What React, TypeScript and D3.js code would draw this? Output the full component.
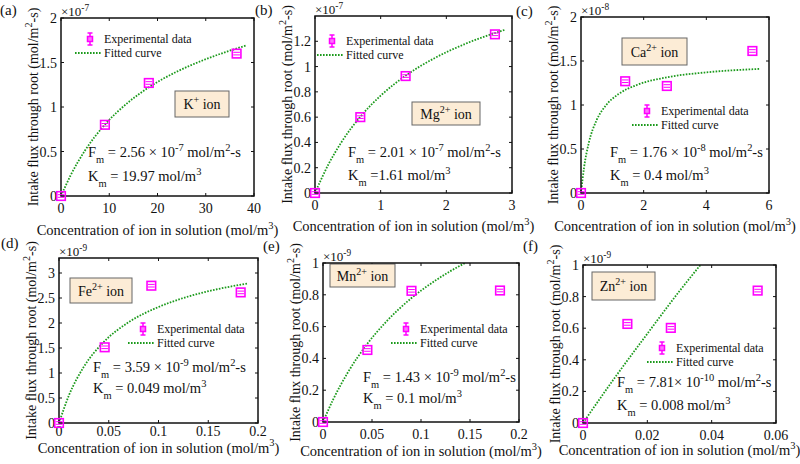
import React from 'react';
import * as d3 from 'd3';

const FONT = "'Liberation Serif', 'DejaVu Serif', 'Times New Roman', serif";
const MAGENTA = '#ff00ff';
const GREEN = '#1c9a1c';
const BOX_FILL = '#fcecd6';

// ---------- data (flux in units of the panel's ×10^n factor) ----------
const kConc = [0, 9.1, 18.2, 36.4];
const kFlux = [0, 0.8, 1.27, 1.6];
const kFitConc = [0, 2, 5, 9, 14, 18, 24, 30, 38.3];
const kFitFlux = [0, 0.233, 0.513, 0.796, 1.055, 1.214, 1.397, 1.537, 1.69];

const mgConc = [0, 0.69, 1.38, 2.74];
const mgFlux = [0, 0.6, 0.925, 1.255];
const mgFitConc = [0, 0.2, 0.4, 0.7, 1.0, 1.4, 1.8, 2.3, 2.9];
const mgFitFlux = [0, 0.222, 0.4, 0.609, 0.77, 0.935, 1.061, 1.182, 1.292];

const caConc = [0, 1.41, 2.74, 5.47];
const caFlux = [0, 1.27, 1.216, 1.614];
const caFitConc = [0, 0.1, 0.25, 0.5, 0.8, 1.2, 1.8, 2.7, 4, 5.7];
const caFitFlux = [0, 0.295, 0.571, 0.829, 0.998, 1.125, 1.23, 1.312, 1.371, 1.41];

const feConc = [0, 0.0459, 0.0928, 0.1826];
const feFlux = [0, 1.514, 2.746, 2.612];
const feFitConc = [0, 0.01, 0.025, 0.045, 0.07, 0.1, 0.13, 0.16, 0.19];
const feFitFlux = [0, 0.554, 1.125, 1.62, 2.016, 2.32, 2.53, 2.68, 2.79];

const mnConc = [0, 0.0453, 0.0903, 0.1806];
const mnFlux = [0, 0.453, 0.825, 0.827];
const mnFitConc = [0, 0.01, 0.025, 0.045, 0.065, 0.09, 0.115, 0.13, 0.145];
const mnFitFlux = [0, 0.137, 0.308, 0.49, 0.634, 0.778, 0.891, 0.949, 1.0];

const znConc = [0, 0.0138, 0.0273, 0.0543];
const znFlux = [0, 0.627, 0.602, 0.838];
const znFitConc = [0, 0.01, 0.02, 0.03, 0.0365];
const znFitFlux = [0, 0.29, 0.565, 0.835, 1.0];

// ---------- ticks ----------
const aXTicks = [0, 10, 20, 30, 40];
const aXTickLabels = ['0', '10', '20', '30', '40'];
const aYTicks = [0, 0.5, 1, 1.5, 2];
const aYTickLabels = ['0', '0.5', '1', '1.5', '2'];

const bXTicks = [0, 1, 2, 3];
const bXTickLabels = ['0', '1', '2', '3'];
const bYTicks = [0, 0.2, 0.4, 0.6, 0.8, 1, 1.2];
const bYTickLabels = ['0', '0.2', '0.4', '0.6', '0.8', '1', '1.2'];

const cXTicks = [0, 2, 4, 6];
const cXTickLabels = ['0', '2', '4', '6'];
const cYTicks = [0, 0.5, 1, 1.5, 2];
const cYTickLabels = ['0', '0.5', '1', '1.5', '2'];

const dXTicks = [0, 0.05, 0.1, 0.15, 0.2];
const dXTickLabels = ['0', '0.05', '0.1', '0.15', '0.2'];
const dYTicks = [0, 0.5, 1, 1.5, 2, 2.5, 3];
const dYTickLabels = ['0', '0.5', '1', '1.5', '2', '2.5', '3'];

const eXTicks = [0, 0.05, 0.1, 0.15, 0.2];
const eXTickLabels = ['0', '0.05', '0.1', '0.15', '0.2'];
const eYTicks = [0, 0.2, 0.4, 0.6, 0.8, 1];
const eYTickLabels = ['0', '0.2', '0.4', '0.6', '0.8', '1'];

const fXTicks = [0, 0.02, 0.04, 0.06];
const fXTickLabels = ['0', '0.02', '0.04', '0.06'];
const fYTicks = [0, 0.2, 0.4, 0.6, 0.8, 1];
const fYTickLabels = ['0', '0.2', '0.4', '0.6', '0.8', '1'];

// ---------- texts ----------
type Seg = [string, number]; // 0 normal, 1 superscript, -1 subscript
const yLabelSegs: Seg[] = [['Intake flux through root (mol/m', 0], ['2', 1], ['-s)', 0]];
const xLabelSegs: Seg[] = [['Concentration of ion in solution (mol/m', 0], ['3', 1], [')', 0]];
const legendTexts = ['Experimental data', 'Fitted curve'];

const fmSegs = (v: string, e: string, sep = ' '): Seg[] => [
  ['F', 0], ['m', -1], [' = ' + v + sep + '× 10', 0], [e, 1], [' mol/m', 0], ['2', 1], ['-s', 0],
];
const kmSegs = (s: string): Seg[] => [['K', 0], ['m', -1], [s + ' mol/m', 0], ['3', 1]];

const panels = [
  {
    tag: '(a)', tagX: 0, tagY: 15,
    x0: 61, x1: 254, y0: 18, y1: 196, xDom: [0, 40], yDom: [0, 2],
    xTicks: aXTicks, xTickLabels: aXTickLabels, yTicks: aYTicks, yTickLabels: aYTickLabels,
    exp: '-7', xTickOff: 17, xLabY: 235,
    conc: kConc, flux: kFlux, fitC: kFitConc, fitF: kFitFlux,
    ion: [['K', 0], ['+', 1], [' ion', 0]] as Seg[], ionBox: [175, 91, 54, 26],
    leg: [75, 53], ann: [88, 157, 181],
    fm: fmSegs('2.56', '-7'), km: kmSegs(' = 19.97'),
  },
  {
    tag: '(b)', tagX: 255, tagY: 15,
    x0: 315, x1: 512, y0: 16, y1: 193, xDom: [0, 3], yDom: [0, 1.4],
    xTicks: bXTicks, xTickLabels: bXTickLabels, yTicks: bYTicks, yTickLabels: bYTickLabels,
    exp: '-7', xTickOff: 17, xLabY: 231,
    conc: mgConc, flux: mgFlux, fitC: mgFitConc, fitF: mgFitFlux,
    ion: [['Mg', 0], ['2+', 1], [' ion', 0]] as Seg[], ionBox: [412, 102, 68, 23],
    leg: [317, 55], ann: [348, 157, 180],
    fm: fmSegs('2.01', '-7'), km: kmSegs(' =1.61'),
  },
  {
    tag: '(c)', tagX: 516, tagY: 16,
    x0: 581, x1: 769, y0: 17, y1: 193, xDom: [0, 6], yDom: [0, 2],
    xTicks: cXTicks, xTickLabels: cXTickLabels, yTicks: cYTicks, yTickLabels: cYTickLabels,
    exp: '-8', xTickOff: 17, xLabY: 231,
    conc: caConc, flux: caFlux, fitC: caFitConc, fitF: caFitFlux,
    ion: [['Ca', 0], ['2+', 1], [' ion', 0]] as Seg[], ionBox: [622, 38, 65, 27],
    leg: [632, 125], ann: [610, 157, 180],
    fm: fmSegs('1.76', '-8'), km: kmSegs(' = 0.4'),
  },
  {
    tag: '(d)', tagX: 1, tagY: 248,
    x0: 59, x1: 258, y0: 258, y1: 423, xDom: [0, 0.2], yDom: [0, 3.3],
    xTicks: dXTicks, xTickLabels: dXTickLabels, yTicks: dYTicks, yTickLabels: dYTickLabels,
    exp: '-9', xTickOff: 12.5, xLabY: 452.5,
    conc: feConc, flux: feFlux, fitC: feFitConc, fitF: feFitFlux,
    ion: [['Fe', 0], ['2+', 1], [' ion', 0]] as Seg[], ionBox: [70, 278, 62, 25],
    leg: [128, 343], ann: [93, 372, 393],
    fm: fmSegs('3.59', '-9'), km: kmSegs(' = 0.049'),
  },
  {
    tag: '(e)', tagX: 263, tagY: 251,
    x0: 323, x1: 519, y0: 263, y1: 422, xDom: [0, 0.2], yDom: [0, 1],
    xTicks: eXTicks, xTickLabels: eXTickLabels, yTicks: eYTicks, yTickLabels: eYTickLabels,
    exp: '-9', xTickOff: 17, xLabY: 456,
    conc: mnConc, flux: mnFlux, fitC: mnFitConc, fitF: mnFitFlux,
    ion: [['Mn', 0], ['2+', 1], [' ion', 0]] as Seg[], ionBox: [330, 264, 65, 23],
    leg: [391, 343], ann: [363, 382, 403],
    fm: fmSegs('1.43', '-9'), km: kmSegs(' = 0.1'),
  },
  {
    tag: '(f)', tagX: 523, tagY: 251,
    x0: 583, x1: 776, y0: 265, y1: 423, xDom: [0, 0.06], yDom: [0, 1],
    xTicks: fXTicks, xTickLabels: fXTickLabels, yTicks: fYTicks, yTickLabels: fYTickLabels,
    exp: '-9', xTickOff: 17, xLabY: 455,
    conc: znConc, flux: znFlux, fitC: znFitConc, fitF: znFitFlux,
    ion: [['Zn', 0], ['2+', 1], [' ion', 0]] as Seg[], ionBox: [592, 272, 63, 28],
    leg: [647, 362], ann: [617, 387, 410],
    fm: fmSegs('7.81', '-10', ''), km: kmSegs(' = 0.008'),
  },
];

function Rich({ x, y, segs, size, anchor = 'start', transform }: any) {
  let cur = 0;
  return (
    <text x={x} y={y} textAnchor={anchor} transform={transform} fill="#111"
      style={{ whiteSpace: 'pre', fontFamily: FONT, fontSize: size + 'px' }}>
      {segs.map(([t, k]: Seg, i: number) => {
        const target = k === 1 ? -0.42 * size : k === -1 ? 0.4 * size : 0;
        const dy = target - cur;
        cur = target;
        return (
          <tspan key={i} dy={dy} style={{ fontSize: (k ? size * 0.72 : size) + 'px' }}>{t}</tspan>
        );
      })}
    </text>
  );
}

function Txt({ x, y, size, anchor = 'start', children }: any) {
  return (
    <text x={x} y={y} textAnchor={anchor} fill="#111"
      style={{ fontFamily: FONT, fontSize: size + 'px' }}>{children}</text>
  );
}

function DataMarker({ cx, cy }: { cx: number; cy: number }) {
  return (
    <g stroke={MAGENTA} fill="none" strokeWidth={1.6}>
      <rect x={cx - 4.3} y={cy - 4.3} width={8.6} height={8.6} />
      <line x1={cx - 3.3} x2={cx + 3.3} y1={cy - 1.3} y2={cy - 1.3} strokeWidth={1} />
      <line x1={cx - 3.3} x2={cx + 3.3} y1={cy + 1.3} y2={cy + 1.3} strokeWidth={1} />
    </g>
  );
}

function Panel({ p, idx }: any) {
  const x = d3.scaleLinear().domain(p.xDom).range([p.x0, p.x1]);
  const y = d3.scaleLinear().domain(p.yDom).range([p.y1, p.y0]);
  const fitPts: [number, number][] = p.fitC.map((c: number, i: number) => [c, p.fitF[i]]);
  const line = d3.line<[number, number]>()
    .x(d => x(d[0])).y(d => y(d[1])).curve(d3.curveMonotoneX);
  const clipId = 'clip' + idx;
  const tk = 3;
  const [bx, by, bw, bh] = p.ionBox;
  const [lx, ly] = p.leg;
  const [ax, ay1, ay2] = p.ann;
  return (
    <g>
      <defs>
        <clipPath id={clipId}>
          <rect x={p.x0} y={p.y0} width={p.x1 - p.x0} height={p.y1 - p.y0} />
        </clipPath>
      </defs>
      <rect x={p.x0} y={p.y0} width={p.x1 - p.x0} height={p.y1 - p.y0} fill="#fff" />
      <g stroke="#111" strokeWidth={1}>
        {p.xTicks.map((t: number, i: number) => (
          <g key={'x' + i}>
            <line x1={x(t)} x2={x(t)} y1={p.y1} y2={p.y1 - tk} />
            <line x1={x(t)} x2={x(t)} y1={p.y0} y2={p.y0 + tk} />
          </g>
        ))}
        {p.yTicks.map((t: number, i: number) => (
          <g key={'y' + i}>
            <line x1={p.x0} x2={p.x0 + tk} y1={y(t)} y2={y(t)} />
            <line x1={p.x1} x2={p.x1 - tk} y1={y(t)} y2={y(t)} />
          </g>
        ))}
      </g>
      {p.xTicks.map((t: number, i: number) => (
        <Txt key={'xl' + i} x={x(t)} y={p.y1 + p.xTickOff} size={14} anchor="middle">{p.xTickLabels[i]}</Txt>
      ))}
      {p.yTicks.map((t: number, i: number) => (
        <Txt key={'yl' + i} x={p.x0 - 4} y={y(t) + 5} size={14} anchor="end">{p.yTickLabels[i]}</Txt>
      ))}
      <Rich x={p.x0} y={p.y0 - 2} size={13} segs={[['×10', 0], [p.exp, 1]]} />
      <path d={line(fitPts) || ''} fill="none" stroke={GREEN} strokeWidth={1.8}
        strokeDasharray="1.6 1.4" clipPath={`url(#${clipId})`} />
      <rect x={bx} y={by} width={bw} height={bh} fill={BOX_FILL} stroke="#666" strokeWidth={1} />
      <Rich x={bx + bw / 2} y={by + bh / 2 + 5} size={14} anchor="middle" segs={p.ion} />
      <g>
        <line x1={lx + 15} x2={lx + 15} y1={ly - 20} y2={ly - 8} stroke={MAGENTA} strokeWidth={1.5} />
        <line x1={lx + 12.5} x2={lx + 17.5} y1={ly - 20} y2={ly - 20} stroke={MAGENTA} strokeWidth={1.5} />
        <line x1={lx + 12.5} x2={lx + 17.5} y1={ly - 8} y2={ly - 8} stroke={MAGENTA} strokeWidth={1.5} />
        <rect x={lx + 12.5} y={ly - 16.5} width={5} height={5} fill="#ff70ff" stroke={MAGENTA} strokeWidth={1.5} />
        <line x1={lx} x2={lx + 27} y1={ly} y2={ly} stroke={GREEN} strokeWidth={1.8} strokeDasharray="1.6 1.4" />
        <Txt x={lx + 29} y={ly - 10} size={12}>{legendTexts[0]}</Txt>
        <Txt x={lx + 29} y={ly + 4} size={12}>{legendTexts[1]}</Txt>
      </g>
      <Rich x={ax} y={ay1} size={14.5} segs={p.fm} />
      <Rich x={ax} y={ay2} size={14.5} segs={p.km} />
      <rect x={p.x0} y={p.y0} width={p.x1 - p.x0} height={p.y1 - p.y0} fill="none" stroke="#111" strokeWidth={1.5} />
      {p.conc.map((c: number, i: number) => (
        <DataMarker key={'m' + i} cx={x(c)} cy={y(p.flux[i])} />
      ))}
      <Rich x={(p.x0 + p.x1) / 2} y={p.xLabY} size={14.5} anchor="middle" segs={xLabelSegs} />
      <Rich x={0} y={0} size={14} anchor="middle" segs={yLabelSegs}
        transform={`translate(${p.x0 - 23},${(p.y0 + p.y1) / 2}) rotate(-90)`} />
      <Txt x={p.tagX} y={p.tagY} size={15}>{p.tag}</Txt>
    </g>
  );
}

export default function App() {
  return (
    <svg width={800} height={464} viewBox="0 0 800 464"
      style={{ position: 'absolute', left: 0, top: 0, background: '#fff', fontFamily: FONT }}>
      <rect x={0} y={0} width={800} height={464} fill="#fff" />
      {panels.map((p, i) => <Panel key={i} p={p} idx={i} />)}
    </svg>
  );
}
